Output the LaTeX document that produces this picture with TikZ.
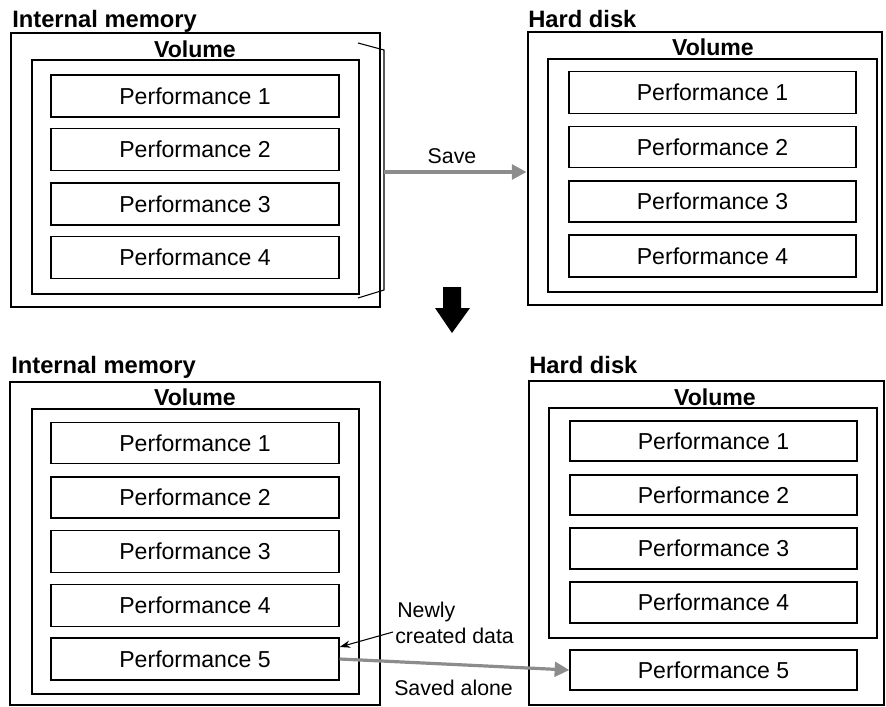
\documentclass[tikz,border=0pt]{standalone}
\usepackage{fontspec}
\setmainfont{Liberation Sans}
\usetikzlibrary{arrows.meta}
\newcommand\mainsz{\fontsize{17.3pt}{20pt}\selectfont}
\newcommand\titsz{\fontsize{17.8pt}{20pt}\selectfont}
\newcommand\labsz{\fontsize{16pt}{19.5pt}\selectfont}
\tikzset{
  sz/.style 2 args={minimum width=#1*0.75pt, minimum height=#2*0.75pt},
  outerbox/.style={draw, line width=2.2pt, inner sep=0pt},
  innerbox/.style={draw, line width=1.5pt, inner sep=0pt},
  perfbox/.style={draw, line width=1pt, inner sep=0pt, font=\mainsz},
  title/.style={anchor=base west, inner sep=0pt, font=\titsz\bfseries},
  vol/.style={anchor=base, inner sep=0pt, font=\mainsz\bfseries},
  lbl/.style={inner sep=0pt, font=\labsz},
  grayarrow/.style={draw=black!45, line width=3pt, -{Triangle[length=11pt,width=11pt,fill=black!45]}},
  thinarrow/.style={draw=black, line width=0.8pt, -{Stealth[length=8pt,width=5.5pt]}},
}
\begin{document}
\begin{tikzpicture}[x=0.75pt,y=-0.75pt]
\useasboundingbox (0,0) rectangle (886,707);

% ---------- top left: internal memory ----------
\node[title] (tlT) at (12,27) {Internal memory};
\node[outerbox, sz={369}{274}] (tlO) at (195.5,170) {};
\node[innerbox, sz={327}{234}] (tlI) at (195.5,177) {};
\node[vol] (tlV) at (195,57) {Volume};
\node[perfbox, sz={288}{42}] (tl1) at (195,96) {Performance 1};
\node[perfbox, sz={288}{42}] (tl2) at (195,149.5) {Performance 2};
\node[perfbox, sz={288}{42}] (tl3) at (195,204) {Performance 3};
\node[perfbox, sz={288}{42}] (tl4) at (195,257.5) {Performance 4};
\draw[line width=0.8pt] (358,43) -- (384,50) -- (384,290) -- (358,298);
\coordinate (brk) at (384,172);

% ---------- top right: hard disk ----------
\node[title] (trT) at (528,27) {Hard disk};
\node[outerbox, sz={354}{273}] (trO) at (705,168.5) {};
\node[innerbox, sz={329}{233}] (trI) at (712.5,175.5) {};
\node[vol] (trV) at (713,55) {Volume};
\node[perfbox, sz={287}{42}] (tr1) at (712.5,92.5) {Performance 1};
\node[perfbox, sz={287}{41}] (tr2) at (712.5,147) {Performance 2};
\node[perfbox, sz={287}{41}] (tr3) at (712.5,201.5) {Performance 3};
\node[perfbox, sz={287}{42}] (tr4) at (712.5,256) {Performance 4};

% save arrow
\node[lbl, anchor=base] (save) at (452,163) {Save};
\draw[grayarrow] (brk) -- (brk -| trO.west);

% big down arrow
\fill (443,287) -- (461,287) -- (461,308) -- (470,308) -- (452,333) -- (435,308) -- (443,308) -- cycle;

% ---------- bottom left ----------
\node[title] (blT) at (11,373) {Internal memory};
\node[outerbox, sz={370}{323}] (blO) at (195,543.5) {};
\node[innerbox, sz={327}{285}] (blI) at (195.5,551.5) {};
\node[vol] (blV) at (195,405) {Volume};
\node[perfbox, sz={288}{41}] (bl1) at (195,443) {Performance 1};
\node[perfbox, sz={288}{41}] (bl2) at (195,497.5) {Performance 2};
\node[perfbox, sz={288}{42}] (bl3) at (195,551.5) {Performance 3};
\node[perfbox, sz={288}{42}] (bl4) at (195,605.5) {Performance 4};
\node[perfbox, sz={288}{42}] (bl5) at (195,659) {Performance 5};

% ---------- bottom right ----------
\node[title] (brT) at (529,373) {Hard disk};
\node[outerbox, sz={355}{324}] (brO) at (706.5,543) {};
\node[innerbox, sz={328}{230}] (brI) at (713,523) {};
\node[vol] (brV) at (715,405) {Volume};
\node[perfbox, sz={287}{40}] (br1) at (713.5,441) {Performance 1};
\node[perfbox, sz={287}{40}] (br2) at (713.5,495) {Performance 2};
\node[perfbox, sz={287}{41}] (br3) at (713.5,548.5) {Performance 3};
\node[perfbox, sz={287}{41}] (br4) at (713.5,602.5) {Performance 4};
\node[perfbox, sz={287}{40}] (br5) at (713.5,670) {Performance 5};

% labels and arrows bottom
\node[lbl, anchor=north west, align=left] (newly) at (395,601.5) {\hspace*{1.5pt}Newly\\[0.4pt]created data};
\node[lbl, anchor=base west] (alone) at (394,695) {Saved alone};
\coordinate (nc) at (393,632);
\draw[thinarrow] (nc) -- ([yshift=9pt]bl5.east);
\draw[grayarrow, line width=2.4pt] (bl5.east) -- (br5.west);
\end{tikzpicture}
\end{document}
